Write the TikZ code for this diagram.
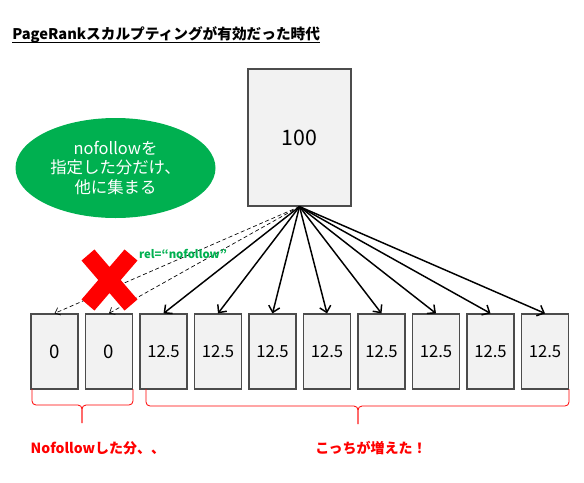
\documentclass[tikz,border=0pt]{standalone}
\usepackage{fontspec}
\setmainfont{Noto Sans CJK JP}
\usetikzlibrary{shapes.geometric, arrows.meta, positioning}
\definecolor{xlgreen}{HTML}{00B050}
\definecolor{pagefill}{HTML}{F2F2F2}

\begin{document}
\begin{tikzpicture}[
  x=0.75pt, y=-0.75pt,
  page/.style={rectangle, minimum width=35.25pt, minimum height=56.25pt,
               inner sep=0pt, draw=black!70, line width=0.9pt, fill=pagefill},
  link/.style={-{Straight Barb[length=4.5pt, width=8.5pt]}, line width=1.1pt},
  nolink/.style={-{Straight Barb[length=3.5pt, width=6pt]}, line width=0.5pt,
                 dash pattern=on 3pt off 2pt},
  bracket/.style={red, line width=0.6pt, rounded corners=3pt},
  font=\small
]
\useasboundingbox (0,0) rectangle (584,482);

\node[anchor=base west, inner sep=0pt, font=\bfseries\fontsize{11}{13}\selectfont]
      (title) at (12,39) {PageRankスカルプティングが有効だった時代};
\draw[line width=0.8pt] ([yshift=-2.4pt]title.base west) -- ([yshift=-2.4pt]title.base east);

\node[ellipse, fill=xlgreen, minimum width=150pt, minimum height=75pt,
      text=white, align=center, font=\fontsize{12.3}{14.3}\selectfont]
      (note) at (115.5,168) {nofollowを\\指定した分だけ、\\他に集まる};

\node[page, minimum width=77.25pt, minimum height=102.75pt,
      font=\fontsize{16}{18}\selectfont] (top) at (299.5,137.5) {100};

\foreach \i in {1,...,10} {
  \pgfmathsetmacro{\x}{\i * 54.5}
  \ifnum\i<3
    \node[page, font=\fontsize{14}{16}\selectfont] (b\i) at (\x, 351.5) {0};
  \else
    \node[page, font=\fontsize{12.5}{14}\selectfont] (b\i) at (\x, 351.5) {12.5};
  \fi
}

\foreach \i in {1,2}
  \draw[nolink] (top.south) -- (b\i.north);
\foreach \i in {3,...,10}
  \draw[link] (top.south) -- (b\i.north);

\draw[red, line width=12.75pt] (88,255) -- (131,305) (131,255) -- (88,305);

\node[text=xlgreen, font=\bfseries\fontsize{8.5}{10}\selectfont] (rel) at (183,254)
      {rel=“nofollow”};

\draw[bracket] (32,389) |- (82,405) -- (82,423);
\draw[bracket] (133,389) |- (82,405) -- (82,423);
\draw[bracket] (146,389) |- (358,406) -- (358,424);
\draw[bracket] (569,389) |- (358,406) -- (358,424);

\node[anchor=west, text=red, font=\bfseries\fontsize{10.5}{12}\selectfont]
      (lost) at (26,448) {Nofollowした分、、};
\node[text=red, font=\bfseries\fontsize{10.5}{12}\selectfont]
      (gain) at (371,448) {こっちが増えた！};
\end{tikzpicture}
\end{document}
